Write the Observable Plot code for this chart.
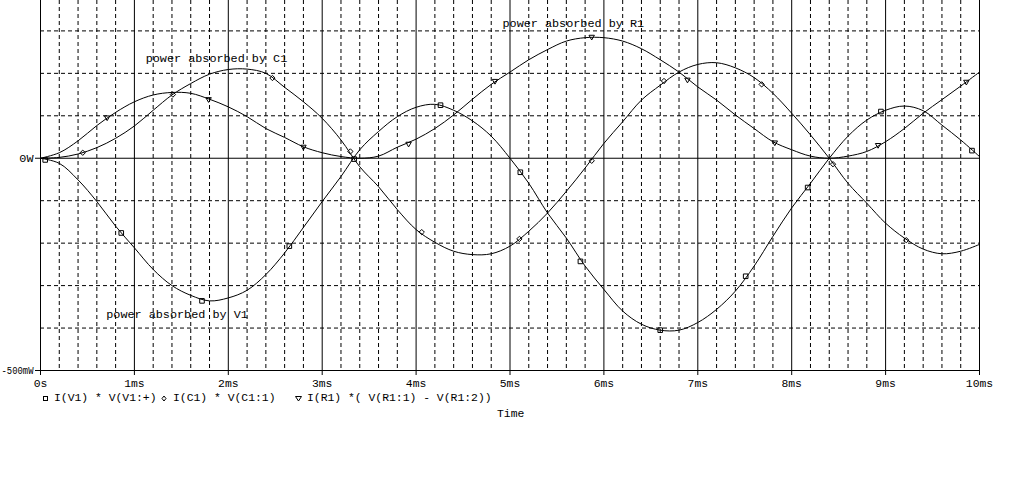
<!DOCTYPE html>
<html><head><meta charset="utf-8">
<script src="https://cdn.jsdelivr.net/npm/d3@7"></script>
<script src="https://cdn.jsdelivr.net/npm/@observablehq/plot@0.6"></script>
<style>
body{margin:0;background:#fff;}
#wrap{position:relative;width:1020px;height:484px;font-family:"Liberation Mono",monospace;font-size:11.4px;color:#000;background:#fff;overflow:hidden;}
#wrap svg.plot{position:absolute;left:0;top:0;}
.lg{position:absolute;white-space:pre;line-height:14px;}
.sym{position:absolute;}
</style></head><body><div id="wrap"></div>
<script>
// time axis (ms)
const times = [0,0.2,0.4,0.6,0.8,1.0,1.2,1.4,1.6,1.8,2.0,2.2,2.4,2.6,2.8,3.0,3.2,3.4,3.6,3.8,4.0,4.2,4.4,4.6,4.8,5.0,5.2,5.4,5.6,5.8,6.0,6.2,6.4,6.6,6.8,7.0,7.2,7.4,7.6,7.8,8.0,8.2,8.4,8.6,8.8,9.0,9.2,9.4,9.6,9.8,10.0];
// power (W)
const pV1 = [0,-0.012,-0.051,-0.102,-0.160,-0.211,-0.262,-0.300,-0.323,-0.336,-0.329,-0.311,-0.274,-0.223,-0.163,-0.102,-0.043,0.020,0.063,0.098,0.120,0.127,0.113,0.088,0.052,0.000,-0.059,-0.129,-0.188,-0.254,-0.309,-0.360,-0.391,-0.405,-0.405,-0.387,-0.356,-0.313,-0.254,-0.184,-0.117,-0.059,0.000,0.052,0.090,0.113,0.123,0.112,0.078,0.043,0.004];
const pC1 = [0,0.002,0.010,0.025,0.047,0.076,0.113,0.149,0.176,0.198,0.209,0.210,0.200,0.167,0.133,0.094,0.043,-0.020,-0.067,-0.121,-0.168,-0.198,-0.219,-0.227,-0.225,-0.207,-0.172,-0.129,-0.078,-0.023,0.035,0.086,0.137,0.172,0.203,0.221,0.225,0.213,0.190,0.153,0.106,0.055,0.000,-0.059,-0.106,-0.153,-0.188,-0.214,-0.225,-0.219,-0.203];
const pR1 = [0,0.013,0.041,0.077,0.108,0.133,0.149,0.155,0.153,0.139,0.121,0.098,0.070,0.049,0.027,0.013,0.004,0.000,0.005,0.026,0.045,0.070,0.102,0.139,0.174,0.203,0.232,0.256,0.276,0.284,0.284,0.276,0.258,0.232,0.203,0.168,0.137,0.102,0.070,0.039,0.020,0.005,0.000,0.005,0.016,0.039,0.070,0.106,0.138,0.170,0.203];

// marker positions
const v1MarkT = [0.05,0.86,1.72,2.65,3.34,4.26,5.11,5.75,6.60,7.51,8.17,8.95,9.92];
const v1MarkP = [-0.004,-0.176,-0.336,-0.207,-0.002,0.125,-0.033,-0.243,-0.405,-0.278,-0.069,0.110,0.018];
const c1MarkT = [0.45,1.41,2.47,3.30,4.06,5.10,5.87,6.64,7.68,8.44,9.22];
const c1MarkP = [0.013,0.150,0.189,0.016,-0.174,-0.190,-0.006,0.182,0.174,-0.014,-0.193];
const r1MarkT = [0.71,1.79,2.80,3.92,4.84,5.87,6.89,7.82,8.92,9.86];
const r1MarkP = [0.096,0.139,0.027,0.034,0.182,0.286,0.185,0.037,0.031,0.180];

// axis ticks
const xTicks = [0,1,2,3,4,5,6,7,8,9,10];
const xTickLabels = ["0s","1ms","2ms","3ms","4ms","5ms","6ms","7ms","8ms","9ms","10ms"];
const yTicks = [0,-0.5];
const yTickLabels = ["0W","-500mW"];
const xMinorGrid = [0.2,0.4,0.6,0.8,1.2,1.4,1.6,1.8,2.2,2.4,2.6,2.8,3.2,3.4,3.6,3.8,4.2,4.4,4.6,4.8,5.2,5.4,5.6,5.8,6.2,6.4,6.6,6.8,7.2,7.4,7.6,7.8,8.2,8.4,8.6,8.8,9.2,9.4,9.6,9.8];
const yMinorGrid = [0.3,0.2,0.1,-0.1,-0.2,-0.3,-0.4];

// curve labels
const labelText = ["power absorbed by C1","power absorbed by R1","power absorbed by V1"];
const labelT = [1.12,4.92,0.70];
const labelP = [0.235,0.318,-0.368];

const lines = [];
times.forEach((t,i)=>{
  lines.push({s:"V1",t,p:pV1[i]});
  lines.push({s:"C1",t,p:pC1[i]});
  lines.push({s:"R1",t,p:pR1[i]});
});
const mk = (T,P)=>T.map((t,i)=>({t,p:P[i]}));
const labels = labelText.map((s,i)=>({s,t:labelT[i],p:labelP[i]}));

const font = "Liberation Mono, monospace";
const chart = Plot.plot({
  width:1020, height:392,
  marginLeft:40, marginRight:41, marginTop:0, marginBottom:22,
  style:{fontFamily:font, fontSize:"11.4px", background:"white", color:"black"},
  x:{domain:[0,10], label:null},
  y:{domain:[-0.5,0.3716], label:null},
  marks:[
    Plot.ruleX(xMinorGrid,{stroke:"black", strokeDasharray:"4,3", strokeWidth:1}),
    Plot.ruleY(yMinorGrid,{stroke:"black", strokeDasharray:"4,3", strokeWidth:1}),
    Plot.ruleX(xTicks,{stroke:"black", strokeWidth:1}),
    Plot.ruleY(yTicks,{stroke:"black", strokeWidth:1}),
    Plot.axisX({ticks:xTicks, tickFormat:d=>xTickLabels[xTicks.indexOf(d)], tickSize:5, tickPadding:3, label:null, fontSize:11.4}),
    Plot.axisY({ticks:yTicks, tickFormat:d=>yTickLabels[yTicks.indexOf(d)], tickSize:5, tickPadding:2, label:null, fontSize:11.8}),
    Plot.line(lines,{x:"t", y:"p", z:"s", stroke:"black", strokeWidth:1, curve:"catmull-rom"}),
    Plot.dot(mk(v1MarkT,v1MarkP),{x:"t", y:"p", symbol:"square", r:2.6, stroke:"black", fill:"none", strokeWidth:1}),
    Plot.dot(mk(c1MarkT,c1MarkP),{x:"t", y:"p", symbol:"diamond2", r:2.4, stroke:"black", fill:"none", strokeWidth:1}),
    Plot.dot(mk(r1MarkT,r1MarkP),{x:"t", y:"p", symbol:"triangle2", rotate:180, r:2.6, stroke:"black", fill:"none", strokeWidth:1}),
    Plot.text(labels,{x:"t", y:"p", text:"s", textAnchor:"start", fill:"black", fontSize:11.8})
  ]
});
chart.classList.add("plot");
// keep the long y tick label inside the picture
chart.querySelectorAll("text").forEach(t=>{
  if (t.textContent === "-500mW") { t.setAttribute("textLength","32"); t.setAttribute("lengthAdjust","spacingAndGlyphs"); }
});
const wrap = document.getElementById("wrap");
wrap.appendChild(chart);

// legend below the chart
const legendSym = ["square","diamond","triangle"];
const legendText = ["I(V1) * V(V1:+)","I(C1) * V(C1:1)","I(R1) *( V(R1:1) - V(R1:2))"];
const symLeft = [42,161,295];
const textLeft = [54,173,307];
const symSvg = {
  square:'<rect x="1.5" y="1.5" width="4" height="4" fill="none" stroke="black"/>',
  diamond:'<polygon points="3,1 5,3.5 3,6 1,3.5" fill="none" stroke="black"/>',
  triangle:'<polygon points="0.5,1.5 6.5,1.5 3.5,6" fill="none" stroke="black"/>'
};
legendSym.forEach((s,i)=>{
  const d = document.createElement("div");
  d.className="sym";
  d.style.left = symLeft[i]+"px";
  d.style.top = "395px";
  d.innerHTML = '<svg width="7" height="7" style="display:block">'+symSvg[s]+'</svg>';
  wrap.appendChild(d);
  const t = document.createElement("div");
  t.className="lg";
  t.style.left = textLeft[i]+"px";
  t.style.top = "391px";
  t.textContent = legendText[i];
  wrap.appendChild(t);
});
const xl = document.createElement("div");
xl.className="lg";
xl.style.left="497px";
xl.style.top="407px";
xl.textContent="Time";
wrap.appendChild(xl);
</script></body></html>
